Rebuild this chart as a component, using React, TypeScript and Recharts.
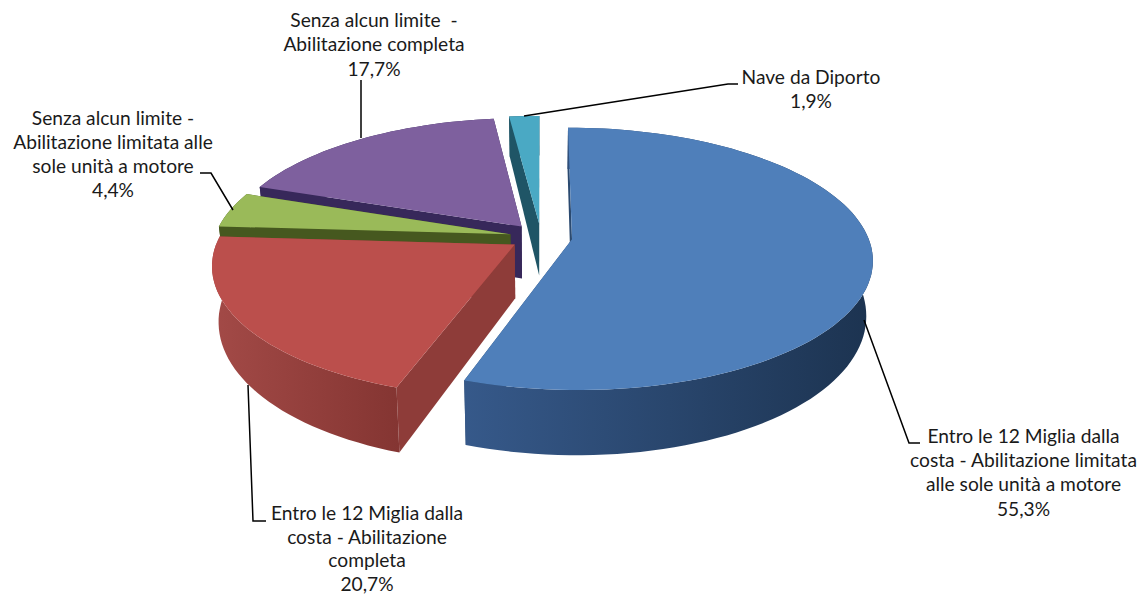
import React from 'react';
import { PieChart, Pie } from 'recharts';

// Slices run counter-clockwise from 12 o'clock so the back ones paint first
const categories = [
  'Nave da Diporto',
  'Senza alcun limite - Abilitazione completa',
  'Senza alcun limite - Abilitazione limitata alle sole unità a motore',
  'Entro le 12 Miglia dalla costa - Abilitazione completa',
  'Entro le 12 Miglia dalla costa - Abilitazione limitata alle sole unità a motore',
];
const shares = [1.9, 17.7, 4.4, 20.7, 55.3];
const shareLabels = ['1,9%', '17,7%', '4,4%', '20,7%', '55,3%'];

const labelLines = [
  ['Nave da Diporto'],
  ['Senza alcun limite  -', 'Abilitazione completa'],
  ['Senza alcun limite -', 'Abilitazione limitata alle', 'sole unità a motore'],
  ['Entro le 12 Miglia dalla', 'costa - Abilitazione', 'completa'],
  ['Entro le 12 Miglia dalla', 'costa - Abilitazione limitata', 'alle sole unità a motore'],
];

const faceColors = ['#4aa9c4', '#7e609e', '#9aba59', '#bb4f4c', '#4f7fba'];
const cutColors = ['#1f5566', '#37285a', '#46581f', '#8e3c39', '#2b4a70'];
const wallFrom = ['#1f5566', '#37285a', '#46581f', '#a34a47', '#36598a'];
const wallTo = ['#1f5566', '#37285a', '#46581f', '#843532', '#1c3350'];

const labelCenters = [811, 374, 113, 367, 1023.5];
const labelBaselines = [84, 27, 125, 520, 443];
const labelSpacing = [24, 24.4, 24, 23.6, 24.2];
const leaders = [
  '524,116 728,84 738,84',
  '361,138 361,80',
  '233,210 211,173 200,173',
  '248,385 253,521 266,521',
  '864,320 909,443 920,443',
];

const data = categories.map((name, i) => ({ name, value: shares[i] }));

const SQUASH = 0.431;
const PERSPECTIVE = 0.149;
const EXPLODE = 0.106;
const BASE_NARROWING = 0.98;
const RAD = Math.PI / 180;

// Extruded, tilted wedge built from the angles Pie hands to its sector shape
const Wedge3D = (props: any) => {
  const { cx, cy, outerRadius: r, startAngle, endAngle, index } = props;
  const mid = ((startAngle + endAngle) / 2) * RAD;
  const ox = EXPLODE * Math.cos(mid);
  const oy = -EXPLODE * Math.sin(mid);

  const project = (u: number, v: number, lowered = false) => {
    const s = 1 / (1 - PERSPECTIVE * v);
    const drop = lowered ? 53 + 12 * v : 0;
    const narrow = lowered ? BASE_NARROWING : 1;
    return [cx + r * u * s * narrow, cy + r * SQUASH * v * s + drop];
  };
  const rim = (a: number) => [ox + Math.cos(a * RAD), oy - Math.sin(a * RAD)];

  const angles: number[] = [];
  const steps = Math.max(4, Math.ceil((endAngle - startAngle) / 2));
  for (let i = 0; i <= steps; i++) angles.push(startAngle + ((endAngle - startAngle) * i) / steps);

  const pts = (list: number[][]) => list.map((p) => `${p[0].toFixed(1)},${p[1].toFixed(1)}`).join(' ');
  const topRim = angles.map((a) => project(rim(a)[0], rim(a)[1]));
  const lowRim = angles.map((a) => project(rim(a)[0], rim(a)[1], true));
  const apex = project(ox, oy);
  const lowApex = project(ox, oy, true);
  const id = `wall-${index}`;

  return (
    <g>
      <defs>
        <linearGradient id={id} x1="0" y1="0" x2="1" y2="0">
          <stop offset="0%" stopColor={wallFrom[index]} />
          <stop offset="100%" stopColor={wallTo[index]} />
        </linearGradient>
      </defs>
      <polygon points={pts([apex, topRim[0], lowRim[0], lowApex])} fill={cutColors[index]} />
      <polygon
        points={pts([apex, topRim[steps], lowRim[steps], lowApex])}
        fill={cutColors[index]}
      />
      <polygon points={pts([...topRim, ...[...lowRim].reverse()])} fill={`url(#${id})`} />
      <polygon points={pts([apex, ...topRim])} fill={faceColors[index]} />
    </g>
  );
};

const textStyle: React.CSSProperties = { fontFamily: 'Lato, "Noto Sans", sans-serif', fontSize: 19.2 };

const renderLabel = (props: any) => {
  const { index } = props;
  const lines = [...labelLines[index], shareLabels[index]];
  return (
    <g key={index}>
      <polyline points={leaders[index]} fill="none" stroke="#000" strokeWidth={1.5} />
      <text textAnchor="middle" fill="#1a1a1a" style={{ ...textStyle, whiteSpace: 'pre' }}>
        {lines.map((line, i) => (
          <tspan key={i} x={labelCenters[index]} y={labelBaselines[index] + i * labelSpacing[index]}>
            {line}
          </tspan>
        ))}
      </text>
    </g>
  );
};

export default function App() {
  return (
    <div style={{ position: 'absolute', left: 0, top: 0, width: 1143, height: 594, background: '#fff' }}>
      <PieChart width={1143} height={594} margin={{ top: 0, right: 0, bottom: 0, left: 0 }}>
        <Pie
          data={data}
          dataKey="value"
          nameKey="name"
          cx={541}
          cy={237}
          innerRadius={0}
          outerRadius={296}
          startAngle={90}
          endAngle={450}
          stroke="none"
          shape={Wedge3D}
          label={renderLabel}
          labelLine={false}
          isAnimationActive={false}
        />
      </PieChart>
    </div>
  );
}
